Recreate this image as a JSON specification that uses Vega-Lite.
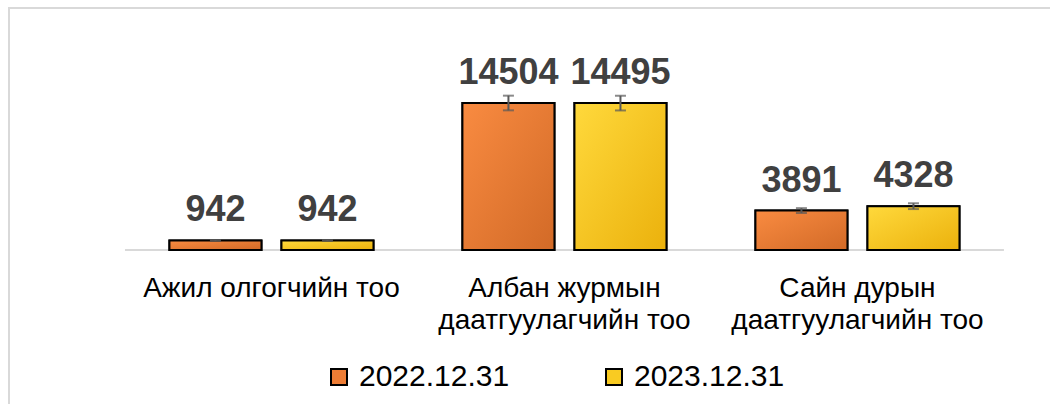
{
  "$schema": "https://vega.github.io/schema/vega-lite/v6.json",
  "width": 1043,
  "height": 398,
  "autosize": {"type": "none"},
  "padding": {"left": 9, "top": 8, "right": 0, "bottom": 0},
  "background": "white",
  "config": {
    "view": {"stroke": "#D9D9D9", "strokeWidth": 2},
    "font": "Liberation Sans"
  },
  "datasets": {
    "bars": [
      {"category": "Ажил олгогчийн тоо", "year": "2022.12.31", "value": 942, "lo": 895, "hi": 989},
      {"category": "Ажил олгогчийн тоо", "year": "2023.12.31", "value": 942, "lo": 895, "hi": 989},
      {"category": "Албан журмын даатгуулагчийн тоо", "year": "2022.12.31", "value": 14504, "lo": 13779, "hi": 15229},
      {"category": "Албан журмын даатгуулагчийн тоо", "year": "2023.12.31", "value": 14495, "lo": 13770, "hi": 15220},
      {"category": "Сайн дурын даатгуулагчийн тоо", "year": "2022.12.31", "value": 3891, "lo": 3650, "hi": 4130},
      {"category": "Сайн дурын даатгуулагчийн тоо", "year": "2023.12.31", "value": 4328, "lo": 4040, "hi": 4610}
    ],
    "base": [
      {"first": "Ажил олгогчийн тоо", "last": "Сайн дурын даатгуулагчийн тоо"}
    ]
  },
  "data": {"name": "bars"},
  "encoding": {
    "x": {
      "field": "category",
      "type": "nominal",
      "sort": null,
      "scale": {
        "domain": ["Ажил олгогчийн тоо", "Албан журмын даатгуулагчийн тоо", "Сайн дурын даатгуулагчийн тоо"],
        "paddingInner": 0,
        "paddingOuter": 0.2799,
        "align": 0.707
      },
      "axis": {
        "title": null,
        "orient": "bottom",
        "offset": -110,
        "domain": false,
        "ticks": false,
        "labelPadding": 0,
        "labelAngle": 0,
        "labelLimit": 0,
        "labelOverlap": false,
        "labelBaseline": "alphabetic",
        "labelFontSize": 28,
        "labelLineHeight": 32,
        "labelColor": "#000000",
        "labelFont": "Liberation Sans",
        "labelExpr": "datum.value == 'Албан журмын даатгуулагчийн тоо' ? ['Албан журмын', 'даатгуулагчийн тоо'] : datum.value == 'Сайн дурын даатгуулагчийн тоо' ? ['Сайн дурын', 'даатгуулагчийн тоо'] : datum.value"
      }
    }
  },
  "layer": [
    {
      "data": {"name": "base"},
      "mark": {"type": "rule", "color": "#D9D9D9", "strokeWidth": 2},
      "encoding": {
        "x": {"field": "first", "type": "nominal", "bandPosition": 0},
        "x2": {"field": "last", "bandPosition": 1},
        "y": {"datum": 0, "type": "quantitative", "scale": {"domain": [-15392, 23878], "nice": false, "zero": false}, "axis": null}
      }
    },
    {
      "mark": {"type": "bar", "stroke": "#000000", "strokeWidth": 2},
      "encoding": {
        "xOffset": {"field": "year", "type": "nominal", "scale": {"domain": ["2022.12.31", "2023.12.31"], "paddingInner": 0.1786, "paddingOuter": 0.397}},
        "y": {"field": "value", "type": "quantitative"},
        "y2": {"datum": 0},
        "color": {
          "field": "year",
          "type": "nominal",
          "scale": {"domain": ["2022.12.31", "2023.12.31"], "range": ["#EE7D35", "#F9CB22"]},
          "legend": {
            "title": null,
            "orient": "none",
            "legendX": 315,
            "legendY": 354,
            "direction": "horizontal",
            "symbolType": "square",
            "symbolSize": 256,
            "symbolStrokeColor": "#000000",
            "symbolStrokeWidth": 2,
            "symbolOpacity": 1,
            "labelFontSize": 30,
            "labelFont": "Liberation Sans",
            "labelColor": "#000000",
            "labelOffset": 5,
            "labelLimit": 0,
            "columnPadding": 89
          }
        }
      }
    },
    {
      "mark": {"type": "bar", "stroke": "#000000", "strokeWidth": 2},
      "encoding": {
        "xOffset": {"field": "year", "type": "nominal"},
        "y": {"field": "value", "type": "quantitative"},
        "y2": {"datum": 0},
        "color": {
          "condition": {
            "test": "datum.year === '2022.12.31'",
            "value": {"gradient": "linear", "x1": 0, "y1": 0, "x2": 1, "y2": 1, "stops": [{"offset": 0, "color": "#F98B41"}, {"offset": 1, "color": "#D26A27"}]}
          },
          "value": {"gradient": "linear", "x1": 0, "y1": 0, "x2": 1, "y2": 1, "stops": [{"offset": 0, "color": "#FFD93C"}, {"offset": 1, "color": "#EBB10C"}]}
        }
      }
    },
    {
      "mark": {"type": "rule", "color": "#595959", "strokeWidth": 2},
      "encoding": {
        "xOffset": {"field": "year", "type": "nominal"},
        "y": {"field": "lo", "type": "quantitative"},
        "y2": {"field": "hi"}
      }
    },
    {
      "mark": {"type": "tick", "color": "#595959", "size": 11, "thickness": 2, "orient": "horizontal"},
      "encoding": {
        "xOffset": {"field": "year", "type": "nominal"},
        "y": {"field": "lo", "type": "quantitative"}
      }
    },
    {
      "mark": {"type": "tick", "color": "#595959", "size": 11, "thickness": 2, "orient": "horizontal"},
      "encoding": {
        "xOffset": {"field": "year", "type": "nominal"},
        "y": {"field": "hi", "type": "quantitative"}
      }
    },
    {
      "mark": {"type": "text", "dy": -19, "baseline": "alphabetic", "fontSize": 36, "fontWeight": "bold", "color": "#404040", "font": "Liberation Sans"},
      "encoding": {
        "xOffset": {"field": "year", "type": "nominal"},
        "y": {"field": "value", "type": "quantitative"},
        "text": {"field": "value", "type": "quantitative", "format": "d"}
      }
    }
  ]
}
